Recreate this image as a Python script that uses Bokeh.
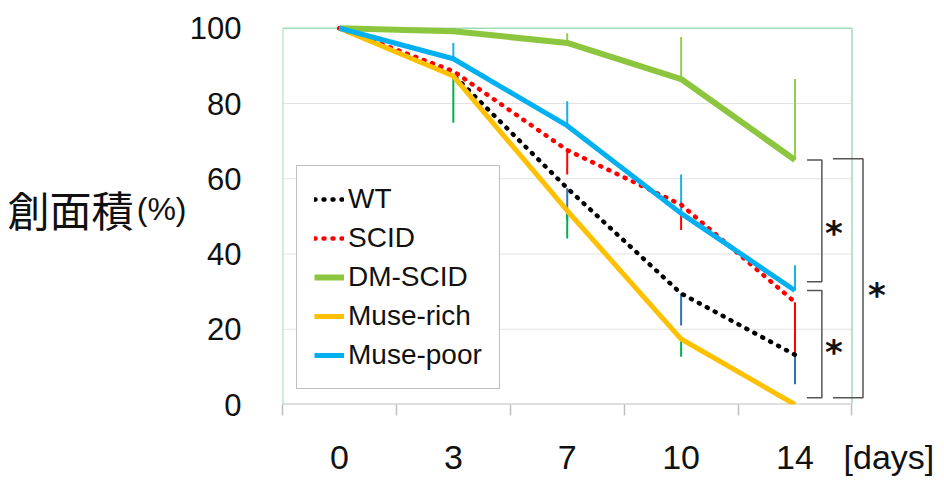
from bokeh.plotting import figure
from bokeh.models import Range1d, FixedTicker, Label, LinearAxis, CustomJSTickFormatter
from bokeh.embed import file_html
from bokeh.resources import INLINE

# ---------------- data ----------------
days = ["0", "3", "7", "10", "14"]
wt = [100, 87.6, 57.5, 29.5, 13.2]
scid = [100, 88.6, 67.6, 53.1, 27.2]
dm_scid = [100, 99.2, 96.1, 86.5, 65.0]
muse_rich = [100, 87.3, 51.5, 17.4, 0.0]
muse_poor = [100, 91.9, 74.1, 50.8, 30.3]

# one-sided error bars as drawn in the figure
wt_err = [0, 0, 8.5, 8.5, 7.8]        # downward
scid_err = [0, 0, 6.5, 6.7, 14.0]     # downward
dm_err = [0, 0.8, 2.6, 11.2, 21.5]    # upward
rich_err = [0, 12.4, 7.4, 4.7, 0]     # downward
poor_err = [0, 4.2, 6.5, 10.3, 6.7]   # upward

y_ticks = [0, 20, 40, 60, 80, 100]
x_unit = "[days]"
y_title = "創面積"
y_unit = "(%)"

xs = list(range(len(days)))
FONT = "Liberation Sans"

p = figure(width=942, height=478,
           x_range=Range1d(-0.5, 5.26), y_range=Range1d(0, 101),
           output_backend="svg", toolbar_location=None,
           min_border_left=282, min_border_right=4,
           min_border_top=24, min_border_bottom=64)
p.outline_line_color = None
p.xgrid.grid_line_color = None
p.ygrid.grid_line_color = None

# x axis (category ticks + the unit label at the right end)
xa = p.xaxis[0]
unit_pos = xs[-1] + 0.825
xa.ticker = FixedTicker(ticks=xs + [unit_pos],
                        minor_ticks=[i - 0.5 for i in range(len(days) + 1)])
xa.formatter = CustomJSTickFormatter(args=dict(labels=days + [x_unit]),
                                     code="return labels[index];")
xa.axis_line_color = None
xa.major_tick_out = 0
xa.major_tick_in = 0
xa.major_tick_line_color = None
xa.minor_tick_out = 11
xa.minor_tick_in = 0
xa.minor_tick_line_color = "#bfbfbf"
xa.minor_tick_line_width = 1.5
xa.major_label_standoff = 22
xa.major_label_text_font = FONT
xa.major_label_text_font_size = "34px"
xa.major_label_text_color = "#111111"

# y axis
ya = p.yaxis[0]
ya.ticker = FixedTicker(ticks=y_ticks)
ya.axis_line_color = None
ya.major_tick_line_color = None
ya.minor_tick_line_color = None
ya.major_tick_out = 0
ya.major_tick_in = 0
ya.major_label_standoff = 41
ya.major_label_text_font = FONT
ya.major_label_text_font_size = "31px"
ya.major_label_text_color = "#111111"

# horizontal y title, built from two extra label-only axes
def title_axis(text, font, size, standoff):
    ax = LinearAxis(ticker=FixedTicker(ticks=[52]), major_label_overrides={52: text})
    ax.axis_line_color = None
    ax.major_tick_line_color = None
    ax.minor_tick_line_color = None
    ax.major_tick_out = 0
    ax.major_tick_in = 0
    ax.major_label_standoff = standoff
    ax.major_label_text_font = font
    ax.major_label_text_font_size = size
    ax.major_label_text_color = "#111111"
    p.add_layout(ax, "left")

title_axis(y_unit, FONT, "32px", 0)
title_axis(y_title, "Noto Sans CJK JP", "42px", 0)

# gridlines and frame
x_lo, x_hi = xs[0] - 0.5, xs[-1] + 0.5
for g in y_ticks[1:-1]:
    p.segment(x0=x_lo, y0=g, x1=x_hi, y1=g, line_color="#e3e3e3", line_width=1)
p.segment(x0=x_lo, y0=0, x1=x_hi, y1=0, line_color="#bfbfbf", line_width=2)
green = "#9edcb8"
p.segment(x0=x_lo, y0=y_ticks[-1], x1=x_hi, y1=y_ticks[-1], line_color=green, line_width=1.5)
p.segment(x0=x_lo, y0=0, x1=x_lo, y1=y_ticks[-1], line_color=green, line_width=2)
p.segment(x0=x_hi, y0=0, x1=x_hi, y1=y_ticks[-1], line_color=green, line_width=1.5)

# error bars
def ebar(vals, errs, sign, color):
    x0 = [x for x, e in zip(xs, errs) if e > 0]
    y0 = [v for v, e in zip(vals, errs) if e > 0]
    y1 = [v + sign * e for v, e in zip(vals, errs) if e > 0]
    p.segment(x0=x0, y0=y0, x1=x0, y1=y1, line_color=color, line_width=2)

ebar(wt, wt_err, -1, "#2e75b6")
ebar(scid, scid_err, -1, "#ff0000")
ebar(dm_scid, dm_err, 1, "#92d050")
ebar(muse_rich, rich_err, -1, "#00b050")
ebar(muse_poor, poor_err, 1, "#1ab0e8")

# series lines
p.line(xs, wt, line_color="#000000", line_width=4.5, line_dash="1 8",
       line_cap="round", legend_label="WT")
p.line(xs, scid, line_color="#ff0000", line_width=4.5, line_dash="1 8",
       line_cap="round", legend_label="SCID")
p.line(xs, dm_scid, line_color="#8cc63f", line_width=6, legend_label="DM-SCID")
p.line(xs, muse_rich, line_color="#ffc000", line_width=5, legend_label="Muse-rich")
p.line(xs, muse_poor, line_color="#00b0f0", line_width=5, legend_label="Muse-poor")

# significance brackets
bk = "#555555"
def bracket(xa_, xb, ytop, ybot):
    p.line([xa_, xb, xb, xa_], [ytop, ytop, ybot, ybot], line_color=bk, line_width=1.5)

bracket(4.105, 4.236, dm_scid[-1], 32.6)
bracket(4.105, 4.236, muse_poor[-1], 1.8)
bracket(4.333, 4.597, dm_scid[-1] + 0.3, 1.8)

for (ax_, ay) in [(4.342, 45.5), (4.342, 14.0), (4.72, 29.0)]:
    p.add_layout(Label(x=ax_, y=ay, text="*", text_font="DejaVu Sans",
                       text_font_size="34px", text_font_style="bold",
                       text_align="center", text_baseline="alphabetic",
                       text_color="#111111"))

# legend
lg = p.legend[0]
lg.location = (14, 15)
lg.margin = 0
lg.padding = 17
lg.spacing = 7
lg.label_height = 30
lg.glyph_width = 30
lg.glyph_height = 20
lg.label_standoff = 4
lg.label_text_font = FONT
lg.label_text_font_size = "28px"
lg.label_text_color = "#111111"
lg.border_line_color = "#808080"
lg.border_line_width = 1.5
lg.background_fill_alpha = 1.0

open("out.html", "w").write(file_html(p, INLINE))
